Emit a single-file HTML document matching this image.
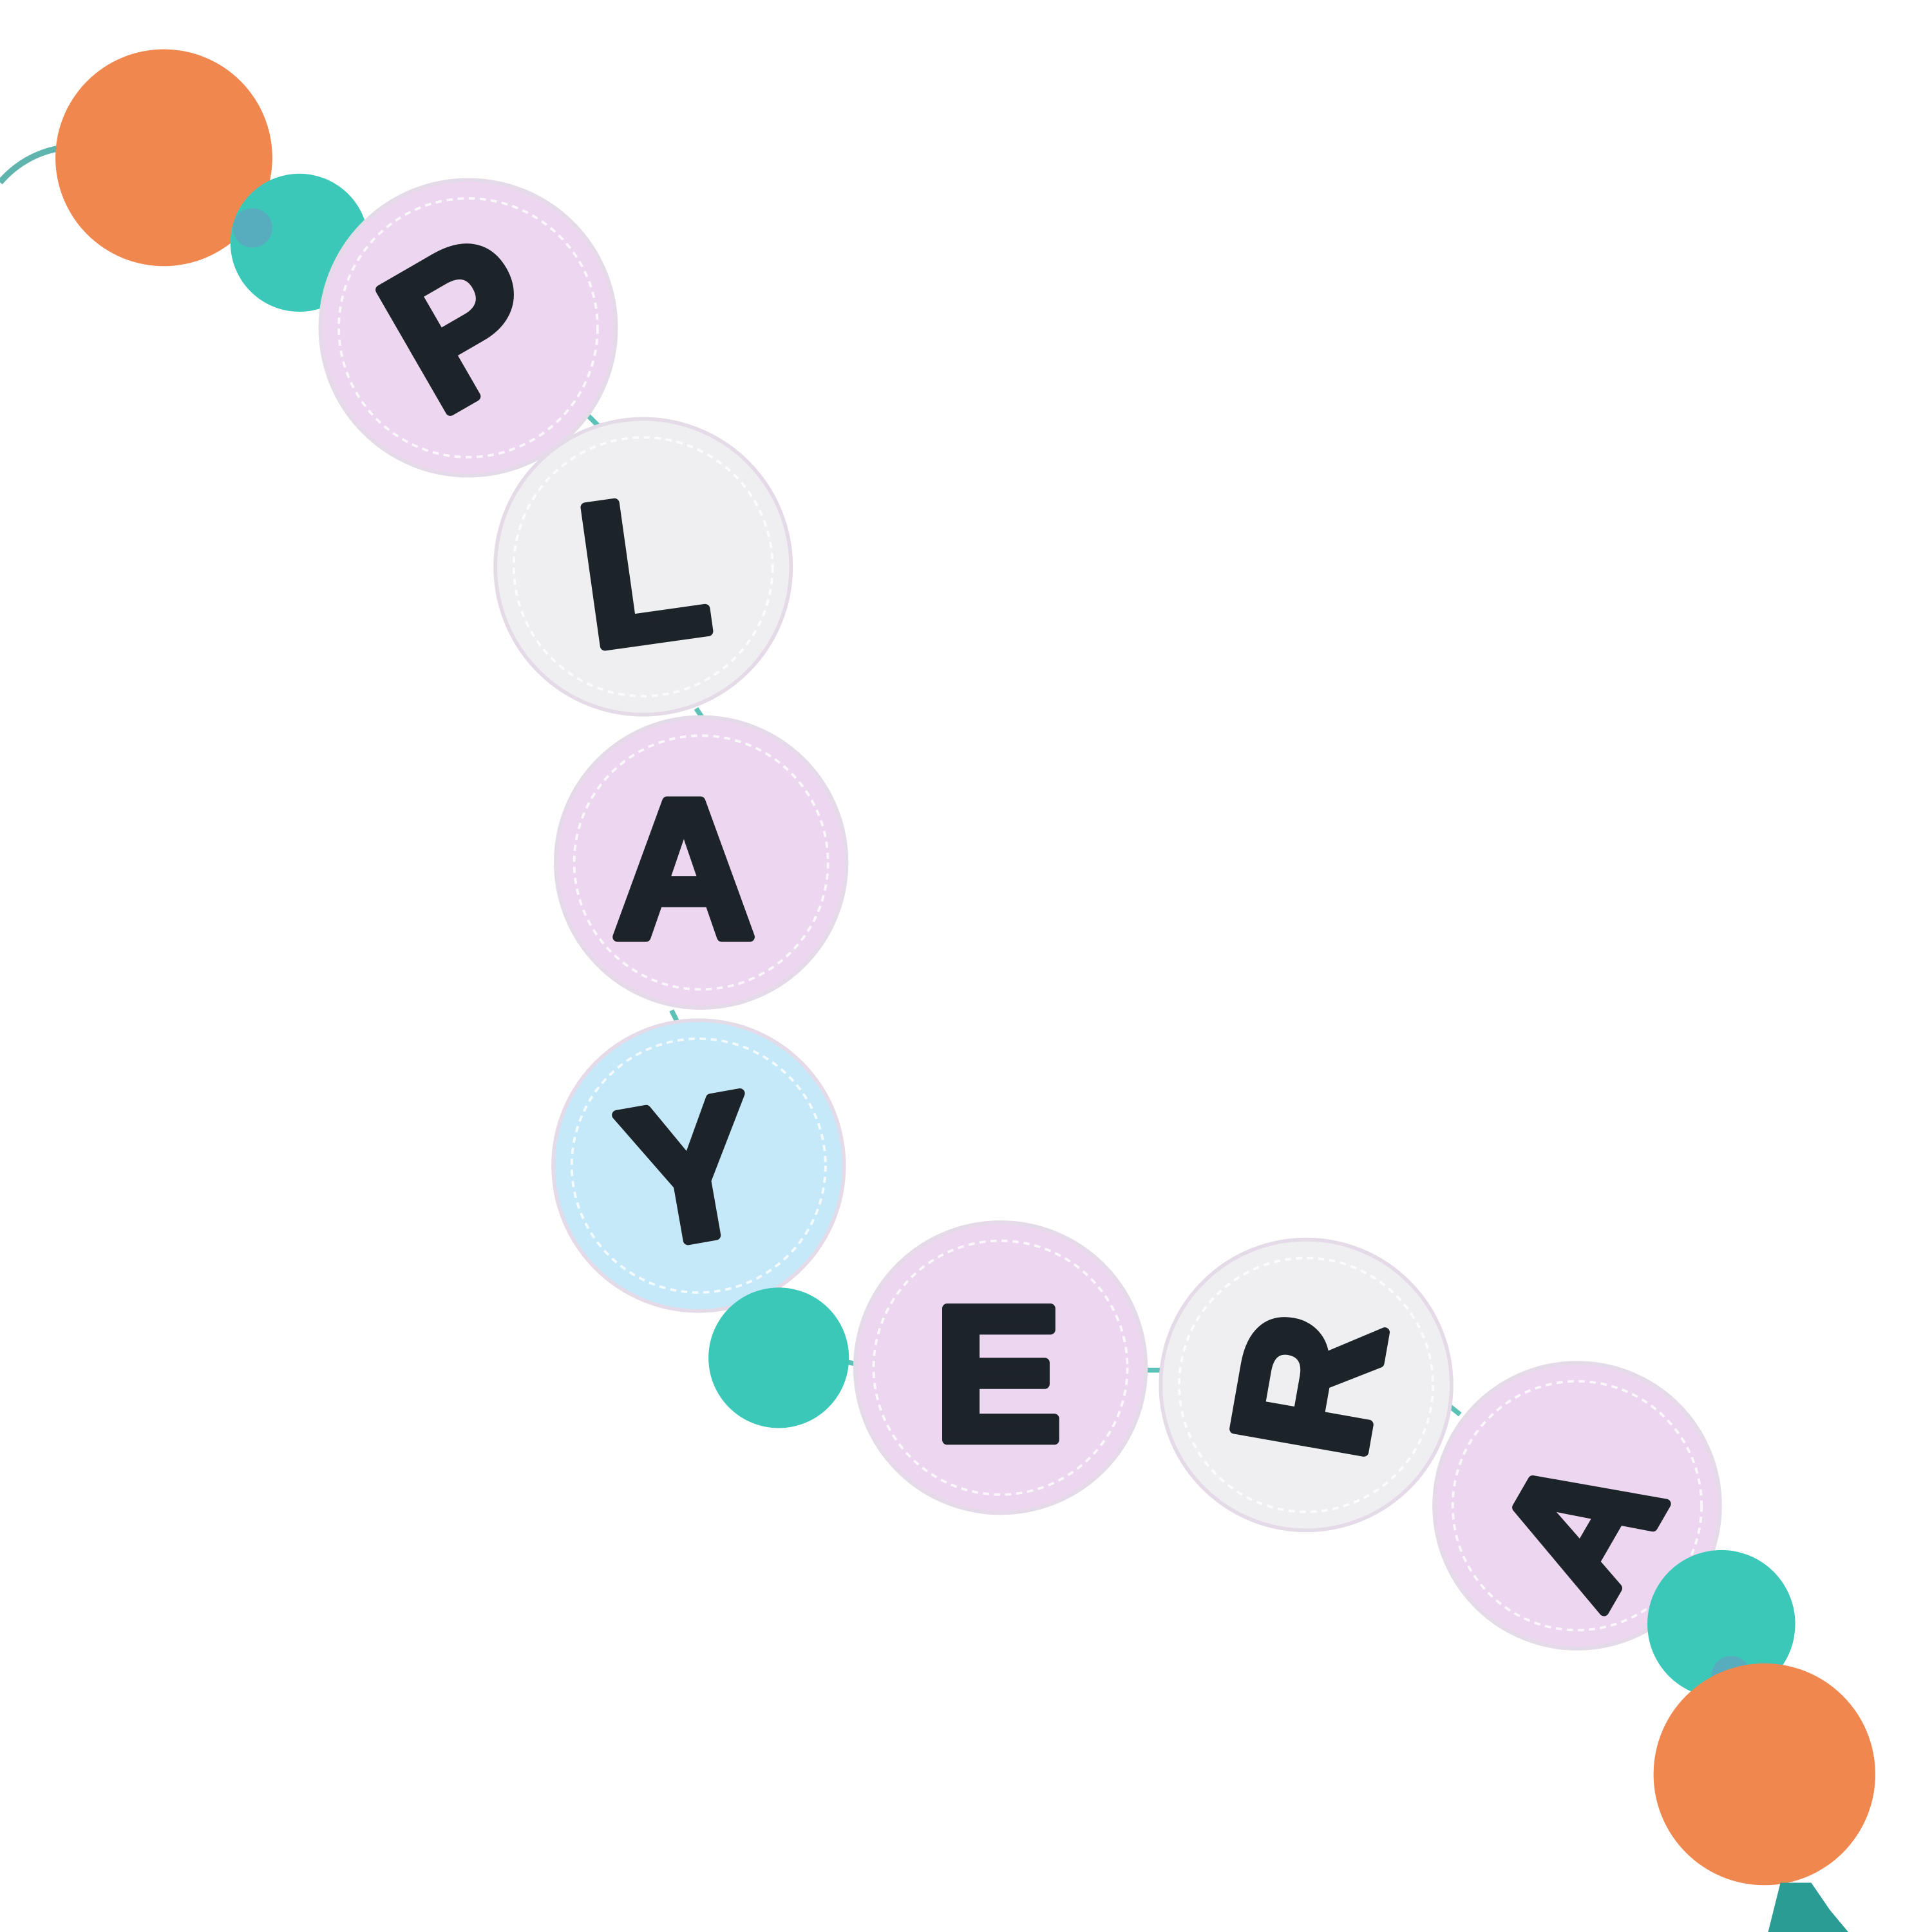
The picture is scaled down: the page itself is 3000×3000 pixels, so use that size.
<!DOCTYPE html>
<html><head><meta charset="utf-8"><style>
html,body{margin:0;padding:0;background:#fff;width:3000px;height:3000px;overflow:hidden}
svg{display:block}
text{font-family:"Liberation Sans",sans-serif;font-weight:bold;fill:#1c2329;stroke:#1c2329;stroke-width:8;stroke-linejoin:round;text-anchor:middle;dominant-baseline:central}
</style></head><body>
<svg width="3000" height="3000" viewBox="0 0 1568 1568" xmlns="http://www.w3.org/2000/svg">
<path d="M0,148 Q20,125 50,120" stroke="#5fb5ad" stroke-width="5" fill="none"/>
<path d="M470,330 L490,350 M565,575 L575,590 M545,820 L550,830 M685,1105 L700,1108 M930,1112 L945,1112 M1175,1140 L1185,1148" stroke="#5cc2b8" stroke-width="4"/>
<circle cx="133" cy="128" r="88" fill="#f0874e"/>
<circle cx="243" cy="197" r="56" fill="#3cc8b8"/>
<circle cx="205" cy="185" r="16" fill="#8a7bc8" opacity="0.35"/>
<g stroke="#e4dae8" stroke-width="3">
<circle cx="380" cy="266" r="120" fill="#ecd6f0"/>
<circle cx="522" cy="460" r="120" fill="#efeff2"/>
<circle cx="569" cy="700" r="118" fill="#ecd6f0"/>
<circle cx="567" cy="946" r="118" fill="#c6e9f9"/>
<circle cx="812" cy="1110" r="118" fill="#ecd6f0"/>
<circle cx="1060" cy="1124" r="118" fill="#efeff2"/>
<circle cx="1280" cy="1222" r="116" fill="#ecd6f0"/>
</g>
<g fill="none" stroke="#fff" stroke-width="2" stroke-dasharray="5 4" opacity="0.8">
<circle cx="380" cy="266" r="105"/><circle cx="522" cy="460" r="105"/><circle cx="569" cy="700" r="103"/>
<circle cx="567" cy="946" r="103"/><circle cx="812" cy="1110" r="103"/><circle cx="1060" cy="1124" r="103"/><circle cx="1280" cy="1222" r="101"/>
</g>
<circle cx="632" cy="1102" r="57" fill="#3cc8b8"/>
<text x="375" y="262" font-size="165" transform="rotate(-30 375 262)">P</text>
<text x="522" y="462" font-size="165" transform="rotate(-8 522 462)">L</text>
<text x="555" y="705" font-size="160">A</text>
<text x="560" y="950" font-size="160" transform="rotate(-10 560 950)">Y</text>
<text x="810" y="1115" font-size="155">E</text>
<text x="1062" y="1124" font-size="155" transform="rotate(-80 1062 1124)">R</text>
<text x="1282" y="1238" font-size="150" transform="rotate(-60 1282 1238)">A</text>
<circle cx="1397" cy="1318" r="60" fill="#3cc8b8"/>
<circle cx="1405" cy="1360" r="16" fill="#8a7bc8" opacity="0.35"/>
<circle cx="1432" cy="1440" r="90" fill="#f0874e"/>
<path d="M1445,1528 L1470,1528 L1485,1550 L1500,1568 L1435,1568 Z" fill="#2a9c94"/>
</svg>
</body></html>
